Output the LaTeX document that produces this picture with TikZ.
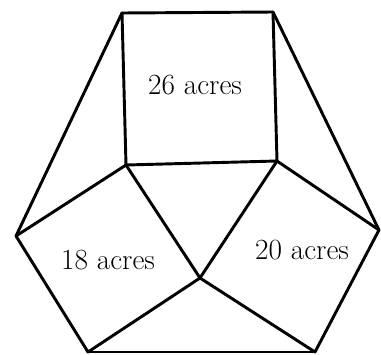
\documentclass[tikz,border=0pt]{standalone}
\usepackage{tikz}
\usetikzlibrary{calc}

\begin{document}
\begin{tikzpicture}[x=0.03cm, y=-0.03cm,
    edge/.style={line width=2.5pt, line join=round, line cap=round},
    area/.style={font=\fontsize{25}{28}\selectfont, inner sep=0pt}]

    \useasboundingbox (0,0) rectangle (381,355);

    % corners of the fields
    \coordinate (tl) at (122,13);
    \coordinate (tr) at (273,12);
    \coordinate (br) at (277,161);
    \coordinate (bl) at (126,165);
    \coordinate (lft) at (16,236);
    \coordinate (rgt) at (379,230);
    \coordinate (mid) at (200,278);
    \coordinate (lb) at (88,352);
    \coordinate (rb) at (315,352);

    % the three squares
    \draw[edge] (tl) -- (tr) -- (br) -- (bl) -- cycle;
    \draw[edge] (bl) -- (lft) -- (lb) -- (mid) -- cycle;
    \draw[edge] (br) -- (mid) -- (rb) -- (rgt) -- cycle;

    % outer triangles
    \draw[edge] (tl) -- (lft);
    \draw[edge] (tr) -- (rgt);
    \draw[edge] (lb) -- (rb);

    \node[area] (top) at (195,85)  {26 acres};
    \node[area] (left) at (108,260) {18 acres};
    \node[area] (right) at (302,250) {20 acres};
  \end{tikzpicture}
\end{document}
